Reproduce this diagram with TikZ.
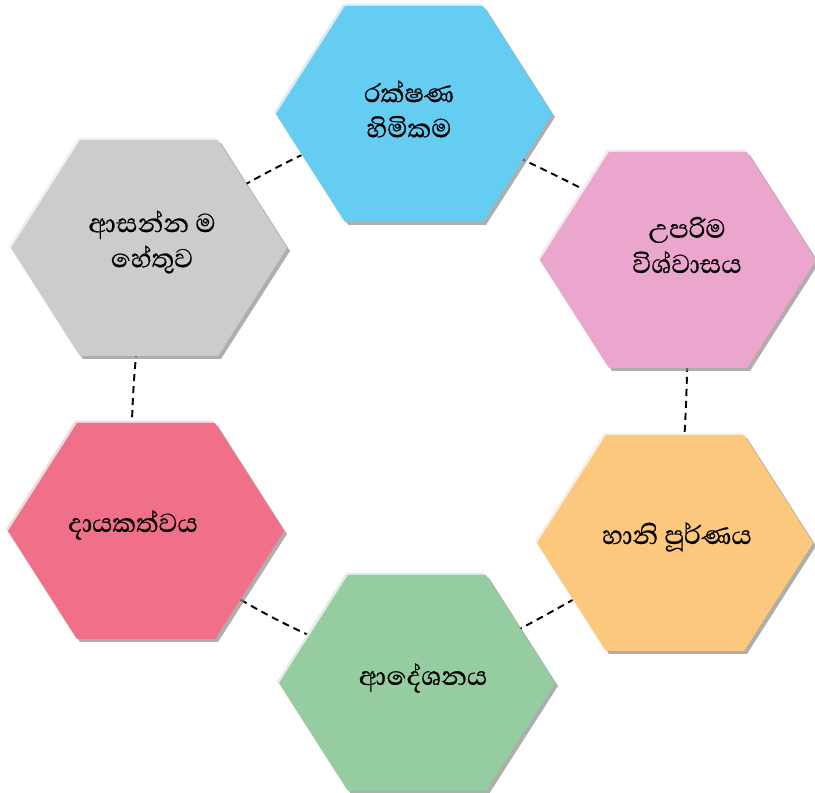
\documentclass[tikz,border=0pt]{standalone}
\usepackage{fontspec}
\newfontfamily\sinhala[Script=Sinhala,FakeBold=0.5]{Abhaya Libre}
\definecolor{hexblue}{RGB}{102,205,242}
\definecolor{hexpink}{RGB}{234,166,204}
\definecolor{hexorange}{RGB}{251,200,125}
\definecolor{hexgreen}{RGB}{150,205,160}
\definecolor{hexred}{RGB}{239,112,136}
\definecolor{hexgray}{RGB}{204,204,204}
\usetikzlibrary{positioning,backgrounds}

\begin{document}
\begin{tikzpicture}[x=0.02cm,y=0.02cm,
    every node/.style={align=center,font=\sinhala\fontsize{19}{20}\selectfont},
    link/.style={line width=1.1pt,dash pattern=on 0.14cm off 0.1cm},
    pics/hexa/.style={code={
      \fill[#1!30!white] (-140,2) -- (-71,110) -- (67,110) -- (136,2) -- (67,-106) -- (-71,-106) -- cycle;
      \fill[black!45,opacity=.7] (-135,-3) -- (-66,105) -- (72,105) -- (141,-3) -- (72,-111) -- (-66,-111) -- cycle;
      \fill[#1] (-138,0) -- (-69,108) -- (69,108) -- (138,0) -- (69,-108) -- (-69,-108) -- cycle;
    }}
    ]
    \useasboundingbox (0,0) rectangle (815,793);

    \node (rakshana) at (409,684) {රක්ෂණ\\හිමිකම};
    \node (uparima) at (687,548) {උපරිම\\විශ්වාසය};
    \node (hani) at (677,256) {හානි පූර්ණය};
    \node (adeshana) at (423,115) {ආදේශනය};
    \node (dayakathva) at (133,268) {දායකත්වය};
    \node (asanna) at (152,551) {ආසන්න ම\\හේතුව};

    \begin{scope}[on background layer]
    % the dashed ring
    \draw[link] (asanna.center) to[bend left=6] (rakshana.center);
    \draw[link] (rakshana.center) to[bend left=3] (uparima.center);
    \draw[link] (uparima.center) to[bend left=3] (hani.center);
    \draw[link] (hani.center) to[bend left=3] (adeshana.center);
    \draw[link] (adeshana.center) to[bend left=10] (dayakathva.center);
    \draw[link] (dayakathva.center) to[bend left=6] (asanna.center);

    % the hexagons
    \pic at (414,679) {hexa=hexblue};
    \pic at (678,533) {hexa=hexpink};
    \pic at (675,250) {hexa=hexorange};
    \pic at (417,110) {hexa=hexgreen};
    \pic at (146,262) {hexa=hexred};
    \pic at (149,545) {hexa=hexgray};
    \end{scope}
\end{tikzpicture}
\end{document}
